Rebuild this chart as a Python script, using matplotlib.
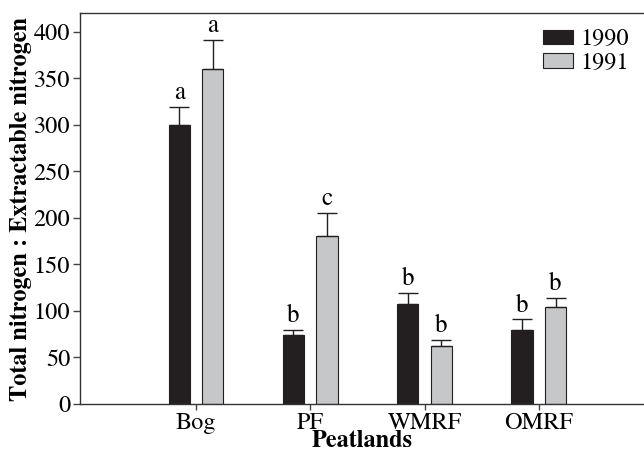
import numpy as np
import matplotlib.pyplot as plt

plt.rcParams['font.family'] = ['TeX Gyre Termes', 'Liberation Serif', 'DejaVu Serif']

peatlands = ['Bog', 'PF', 'WMRF', 'OMRF']
ratio_1990 = [300, 74, 107, 80]
ratio_1991 = [360, 181, 62, 104]
err_1990 = [19, 6, 12, 11]
err_1991 = [31, 24, 7, 10]
letters_1990 = ['a', 'b', 'b', 'b']
letters_1991 = ['a', 'c', 'b', 'b']

fig = plt.figure(figsize=(6.44, 4.5), dpi=100)
ax = fig.add_axes([0.1242, 0.1022, 0.8758, 0.8682])

x = np.arange(len(peatlands))
w = 0.187
off = 0.147
ekw = dict(lw=1, capsize=7, capthick=1, ecolor='#231f20')
ax.bar(x - off, ratio_1990, w, color='#231f20', edgecolor='#231f20', lw=0.8,
       label='1990', yerr=[np.zeros(4), err_1990], error_kw=ekw)
ax.bar(x + off, ratio_1991, w, color='#c6c7c9', edgecolor='#231f20', lw=0.8,
       label='1991', yerr=[np.zeros(4), err_1991], error_kw=ekw)

for i in range(len(peatlands)):
    ax.text(x[i] - off, ratio_1990[i] + err_1990[i] + 2, letters_1990[i],
            ha='center', va='bottom', fontsize=18)
    ax.text(x[i] + off, ratio_1991[i] + err_1991[i] + 2, letters_1991[i],
            ha='center', va='bottom', fontsize=18)

ax.set_xlim(-1.015, 3.92)
ax.set_ylim(0, 420)
ax.set_yticks(np.arange(0, 401, 50))
ax.set_xticks(x)
ax.set_xticklabels(peatlands)
ax.tick_params(axis='both', labelsize=17.5, direction='out', color='#444444',
               width=1, pad=2)
ax.tick_params(axis='y', length=5)
ax.tick_params(axis='x', length=4)
ax.spines['right'].set_visible(False)
for s in ['left', 'bottom', 'top']:
    ax.spines[s].set_color('#333333')
    ax.spines[s].set_linewidth(1)

ax.set_ylabel('Total nitrogen : Extractable nitrogen', fontsize=17.5,
              fontweight='bold', labelpad=1)
ax.set_xlabel('Peatlands', fontsize=17.5, fontweight='bold', labelpad=-3)

ax.legend(loc='upper right', bbox_to_anchor=(0.991, 0.985), frameon=False,
          fontsize=17.5, handlelength=1.23, handleheight=0.53, handletextpad=0.3,
          labelspacing=0.1, borderaxespad=0)

fig.savefig('out.png', dpi=100)
